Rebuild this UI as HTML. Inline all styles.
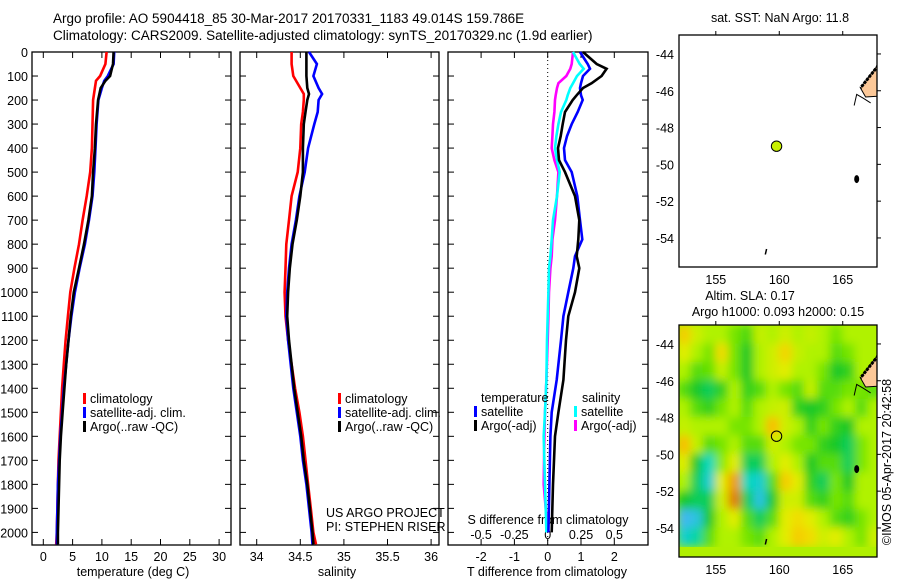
<!DOCTYPE html>
<html><head><meta charset="utf-8"><style>
html,body{margin:0;padding:0;background:#fff;}
svg{display:block;font-family:"Liberation Sans",sans-serif;}
text{fill:#000;}
</style></head><body>
<svg id="c" width="900" height="580" viewBox="0 0 900 580">
<defs>
<filter id="bl" x="0" y="0" width="1" height="1"><feGaussianBlur stdDeviation="4.5" edgeMode="duplicate"/></filter>
<clipPath id="mapclip"><rect x="679" y="325" width="198" height="232"/></clipPath>
</defs>
<text x="53" y="23" font-size="13.5">Argo profile: AO 5904418_85 30-Mar-2017 20170331_1183 49.014S 159.786E</text>
<text x="53" y="40" font-size="13.5">Climatology: CARS2009. Satellite-adjusted climatology: synTS_20170329.nc (1.9d earlier)</text>
<g id="g"></g>
</svg>
<script>
// ---------- data ----------
const tDepth=[0,50,100,120,150,200,300,400,500,600,700,800,900,1000,1100,1200,1300,1400,1500,1600,1700,1800,1900,2000,2050];
const tArgo=[12.0,11.9,11.4,10.6,9.8,9.35,9.0,8.8,8.5,8.3,7.7,6.95,6.1,5.2,4.7,4.3,3.9,3.6,3.3,3.0,2.8,2.7,2.6,2.5,2.5];
const tSat=[12.1,12.0,11.0,10.4,10.0,9.4,9.1,8.9,8.7,8.4,7.8,7.1,6.2,5.4,4.8,4.3,3.9,3.5,3.2,2.9,2.7,2.5,2.4,2.3,2.3];
const tClim=[10.8,10.6,9.7,9.0,8.8,8.5,8.4,8.3,8.0,7.4,6.7,6.1,5.3,4.6,4.2,3.8,3.5,3.2,3.0,2.8,2.6,2.5,2.4,2.3,2.2];
const sDepth=[0,50,100,150,175,200,250,300,400,500,600,700,800,900,1000,1100,1200,1300,1400,1500,1600,1700,1800,1900,2000,2050];
const sArgo=[34.57,34.57,34.57,34.58,34.60,34.58,34.56,34.54,34.53,34.53,34.50,34.46,34.41,34.38,34.36,34.35,34.37,34.40,34.43,34.47,34.51,34.54,34.58,34.61,34.64,34.65];
const sSat=[34.60,34.69,34.65,34.71,34.75,34.71,34.70,34.66,34.59,34.55,34.49,34.45,34.40,34.37,34.35,34.34,34.36,34.39,34.42,34.46,34.50,34.53,34.57,34.60,34.63,34.64];
const sClim=[34.40,34.40,34.42,34.50,34.54,34.54,34.53,34.51,34.50,34.47,34.40,34.37,34.34,34.33,34.32,34.33,34.36,34.40,34.44,34.49,34.53,34.56,34.59,34.62,34.65,34.68];
const dDepth=[0,50,70,100,130,150,180,200,250,300,350,400,450,500,600,700,780,850,900,1000,1100,1200,1365,1500,1600,1800,2000];
const dTArgo=[1.06,1.47,1.77,1.62,1.32,1.06,0.87,0.75,0.52,0.45,0.39,0.31,0.34,0.52,0.82,0.95,0.92,0.87,0.95,0.82,0.62,0.55,0.47,0.32,0.22,0.16,0.12];
const dTSat=[0.97,1.2,1.27,1.06,1.0,0.97,1.0,1.05,0.9,0.72,0.58,0.49,0.52,0.72,0.89,0.97,1.04,0.82,0.77,0.62,0.47,0.4,0.27,0.12,0.08,0.05,0.02];
const dSSat=[0.19,0.24,0.27,0.22,0.19,0.17,0.15,0.14,0.1,0.08,0.065,0.055,0.07,0.09,0.07,0.04,0.03,0.02,0.01,0.005,0.0,-0.005,-0.01,-0.02,-0.03,-0.02,-0.01];
const dSArgo=[0.19,0.18,0.17,0.14,0.08,0.07,0.06,0.055,0.05,0.04,0.035,0.03,0.05,0.08,0.07,0.055,0.035,0.03,0.02,0.01,0.005,0,-0.01,-0.02,-0.025,-0.03,0];
const depthTicks=[0,100,200,300,400,500,600,700,800,900,1000,1100,1200,1300,1400,1500,1600,1700,1800,1900,2000];
const tTicks=[0,5,10,15,20,25,30];
const sTicks=[34,34.5,35,35.5,36];
const sTickLabels=["34","34.5","35","35.5","36"];
const dtTicks=[-2,-1,0,1,2];
const dsTicks=[-0.5,-0.25,0,0.25,0.5];
const dsTickLabels=["-0.5","-0.25","0","0.25","0.5"];
const lonTicks=[155,160,165];
const latTicks=[-44,-46,-48,-50,-52,-54];
const argoLon=159.786, argoLat=-49.014;
const slaGrid=[
[1,.3,0,0,-.3,-.6,.2,0,.3,0,.2,0,-.3,0,0,0],
[.5,0,-.3,.8,-.3,-1,0,.3,.9,.2,0,0,-.5,-.3,0,0],
[0,-.5,-.4,.2,-.3,-1,0,.3,.5,0,0,-.3,-1,-.8,0,0],
[-.5,-1,-1.2,-.8,0,-.8,-.5,0,-.3,-.5,.2,-.5,-.5,-.3,-.3,-.5],
[0,-.5,-.8,-.3,0,-.5,0,.2,.3,-.8,-1,-.8,-.3,0,-.5,0],
[.2,0,0,0,-.3,-.3,0,1.2,.3,0,-.8,-.3,-.8,-1,0,0],
[1.2,.2,-.5,-.3,0,-.5,-.5,.3,0,-.3,-.3,-.8,-1,-1.2,-.3,0],
[.5,-1,-1.6,-.2,.5,-1.2,-1.2,0,.5,0,-1,-.5,-.5,-1.2,-.3,0],
[0,-1.2,-1.8,.5,1.5,-1.6,-1.8,-.5,1,.5,-.8,-1.2,-.3,-1,0,0],
[-1,-1.2,-1.2,.3,1.8,-1.2,-2,-1,.3,.3,-.5,-.8,-.3,-.5,0,0],
[-2.2,-2,-1,0,.5,-.5,-1.2,-.5,.5,.8,.5,0,-.5,-.8,-.3,0],
[-1.8,-1.5,-.5,0,0,-.3,-.5,0,.5,1,.8,.3,.5,0,-.3,.3]];
const coastLon=[167.7,167.6,166.4,166.8,167.7];
const coastLat=[-44.6,-44.76,-45.85,-46.34,-46.3];

// ---------- helpers ----------
const NS="http://www.w3.org/2000/svg";
const G=document.getElementById('g');
function el(tag,attrs,parent){const e=document.createElementNS(NS,tag);for(const k in attrs)e.setAttribute(k,attrs[k]);(parent||G).appendChild(e);return e;}
function txt(x,y,s,size,anchor,name,parent){const t=el('text',{x:x,y:y,'font-size':size,'text-anchor':anchor||'start'},parent);t.textContent=s;


return t;}
const TOP=52,BOT=545;
const yD=d=>TOP+d*0.2402;

function panel(x0,x1,name){
  const r=el('rect',{x:x0,y:TOP,width:x1-x0,height:BOT-TOP,fill:'none',stroke:'#000','stroke-width':1.3});
  
  
  depthTicks.forEach(d=>{const y=yD(d);
    const a=el('line',{x1:x0,y1:y,x2:x0+6,y2:y,stroke:'#000'});
    
    
    const b=el('line',{x1:x1-6,y1:y,x2:x1,y2:y,stroke:'#000'});
    
    
  });
}
function xticks(vals,fx,labels,labelY,name){
  vals.forEach((v,i)=>{const x=fx(v);
    const a=el('line',{x1:x,y1:TOP,x2:x,y2:TOP+6,stroke:'#000'});
    
    
    const b=el('line',{x1:x,y1:BOT-6,x2:x,y2:BOT,stroke:'#000'});
    
    
    if(labels) txt(x,labelY,labels[i],12.5,'middle',name);
  });
}
function profile(depths,vals,fx,color,name,w){
  const pts=depths.map((d,i)=>fx(vals[i]).toFixed(1)+','+yD(d).toFixed(1)).join(' ');
  const p=el('polyline',{points:pts,fill:'none',stroke:color,'stroke-width':w||2.6,'stroke-linejoin':'miter'});
  
  
}
function legend(x,y,color,label,name){
  const m=el('rect',{x:x,y:y-10,width:3,height:11,fill:color});
  
  
  txt(x+7,y,label,12.5,'start',name);
}

depthTicks.forEach(d=>txt(28,yD(d)+5,String(d),12.5,'end','depth-tick-label'));

// ---------- panel 1: temperature ----------
const fT=v=>43.3+v*5.86;
panel(32,231,'temperature-panel');
xticks(tTicks,fT,tTicks.map(String),561,'temperature-tick-label');
txt(133,576,'temperature (deg C)',12.5,'middle','temperature-axis-title');
profile(tDepth,tClim,fT,'#f00','temperature-climatology-line');
profile(tDepth,tSat,fT,'#00f','temperature-satellite-line');
profile(tDepth,tArgo,fT,'#000','temperature-argo-line');
legend(83,403,'#f00','climatology','legend-climatology');
legend(83,417,'#00f','satellite-adj. clim.','legend-satellite');
legend(83,431,'#000','Argo(..raw -QC)','legend-argo');

// ---------- panel 2: salinity ----------
const fS=v=>256.7+(v-34)*87.2;
panel(240,439,'salinity-panel');
xticks(sTicks,fS,sTickLabels,561,'salinity-tick-label');
txt(337,576,'salinity',12.5,'middle','salinity-axis-title');
profile(sDepth,sClim,fS,'#f00','salinity-climatology-line');
profile(sDepth,sSat,fS,'#00f','salinity-satellite-line');
profile(sDepth,sArgo,fS,'#000','salinity-argo-line');
legend(338,403,'#f00','climatology','legend-climatology-2');
legend(338,417,'#00f','satellite-adj. clim.','legend-satellite-2');
legend(338,431,'#000','Argo(..raw -QC)','legend-argo-2');
txt(326,517,'US ARGO PROJECT',12.5,'start','project-credit');
txt(326,531,'PI: STEPHEN RISER',12.5,'start','pi-credit');

// ---------- panel 3: differences ----------
const fDT=v=>547.7+v*33.3;
const fDS=v=>547.7+v*133.2;
panel(448,648,'difference-panel');
xticks(dtTicks,fDT,dtTicks.map(String),561,'t-difference-tick-label');
dsTickLabels.forEach((s,i)=>txt(fDS(dsTicks[i]),539,s,12.5,'middle','s-difference-tick-label'));
const zl=el('line',{x1:fDT(0),y1:TOP,x2:fDT(0),y2:BOT,stroke:'#000','stroke-dasharray':'1,3'});


txt(548,524,'S difference from climatology',12.5,'middle','s-difference-axis-title');
txt(547,576,'T difference from climatology',12.5,'middle','t-difference-axis-title');
profile(dDepth,dSArgo,fDS,'#f0f','s-diff-argo-line');
profile(dDepth,dSSat,fDS,'#0ff','s-diff-satellite-line');
profile(dDepth,dTSat,fDT,'#00f','t-diff-satellite-line');
profile(dDepth,dTArgo,fDT,'#000','t-diff-argo-line');
txt(481,402,'temperature',12.5,'start','legend-temperature-heading');
txt(582,402,'salinity',12.5,'start','legend-salinity-heading');
legend(474,416,'#00f','satellite','legend-t-satellite');
legend(474,430,'#000','Argo(-adj)','legend-t-argo');
legend(574,416,'#0ff','satellite','legend-s-satellite');
legend(574,430,'#f0f','Argo(-adj)','legend-s-argo');

// ---------- maps ----------
const LON0=152.1,LON1=167.7;
const mx=lo=>679+(lo-LON0)*(198/(LON1-LON0));
function map(top,name,withSla){
  const latTop=-42.97, pxlat=18.4;
  const my=la=>top+(latTop-la)*pxlat;
  const H=232;
  if(withSla){
    const bg=el('rect',{x:679,y:top,width:198,height:H,fill:'#b0f000'});
    
    
    const cg=el('g',{'clip-path':'url(#mapclip)'});
    const hg=el('g',{filter:'url(#bl)'},cg);
    const stops=[[-2.2,[64,184,240]],[-1.6,[0,216,190]],[-1,[24,200,40]],[-0.4,[100,224,0]],[0,[176,242,0]],[0.6,[236,236,0]],[1.2,[250,190,0]],[1.8,[226,120,0]]];
    const col=v=>{if(v<=stops[0][0])return stops[0][1];for(let i=1;i<stops.length;i++){if(v<=stops[i][0]){const a=stops[i-1],b=stops[i],t=(v-a[0])/(b[0]-a[0]);return a[1].map((c,k)=>Math.round(c+(b[1][k]-c)*t));}}return stops[stops.length-1][1];};
    slaGrid.forEach((row,r)=>row.forEach((v,c)=>{
      const lo=152+c, la=-43-r;
      const x=mx(lo), y=my(la);
      const cc=col(v);
      const cell=el('rect',{x:x-0.5,y:y-0.5,width:mx(lo+1)-x+1,height:pxlat+1,fill:'rgb('+cc.join(',')+')'},hg);
      
      
    }));
  }
  const cp=coastLon.map((lo,i)=>mx(lo).toFixed(1)+','+my(coastLat[i]).toFixed(1)).join(' ');
  const land=el('polygon',{points:cp,fill:'#fcc898',stroke:'#000','stroke-width':1});
  
  
  const edge=el('polyline',{points:mx(167.6)+','+my(-44.8)+' '+mx(166.4)+','+my(-45.85),fill:'none',stroke:'#000','stroke-width':3,'stroke-dasharray':'3,1'});
  
  
  const cl=el('polyline',{points:[[165.9,-46.8],[166.1,-46.2],[166.6,-46.4],[167.2,-46.66]].map(p=>mx(p[0])+','+my(p[1])).join(' '),fill:'none',stroke:'#000','stroke-width':1});
  
  
  const isl=el('ellipse',{cx:mx(166.1),cy:my(-50.8),rx:2.5,ry:4,fill:'#000'});
  
  
  const isl2=el('line',{x1:mx(158.9),y1:my(-54.9),x2:mx(159.0),y2:my(-54.6),stroke:'#000','stroke-width':1.5});
  
  
  const dot=el('circle',{cx:mx(argoLon),cy:my(argoLat),r:5.2,fill:withSla?'none':'#c8f000',stroke:'#000','stroke-width':1});
  
  
  const fr=el('rect',{x:679,y:top,width:198,height:H,fill:'none',stroke:'#000','stroke-width':1.3});
  
  
  lonTicks.forEach(lo=>{const x=mx(lo);
    const t=el('line',{x1:x,y1:top-4,x2:x,y2:top,stroke:'#000'});
    
    
    txt(x,top+H+17,String(lo),12.5,'middle','lon-tick-label');
  });
  latTicks.forEach(la=>{const y=my(la);
    const t=el('line',{x1:877,y1:y,x2:881,y2:y,stroke:'#000'});
    
    
    txt(674,y+5,String(la),12.5,'end','lat-tick-label');
  });
}
map(35,'sst-map',false);
map(325,'sla-map',true);
txt(780,22,'sat. SST: NaN Argo: 11.8',12.5,'middle','sst-map-title');
txt(750,300,'Altim. SLA: 0.17',12.5,'middle','sla-map-title-1');
txt(778,316,'Argo h1000: 0.093 h2000: 0.15',12.5,'middle','sla-map-title-2');
const v=txt(0,0,'©IMOS 05-Apr-2017 20:42:58',12.5,'middle','imos-timestamp');
v.setAttribute('transform','translate(891,462) rotate(-90)');
</script>
</body></html>
